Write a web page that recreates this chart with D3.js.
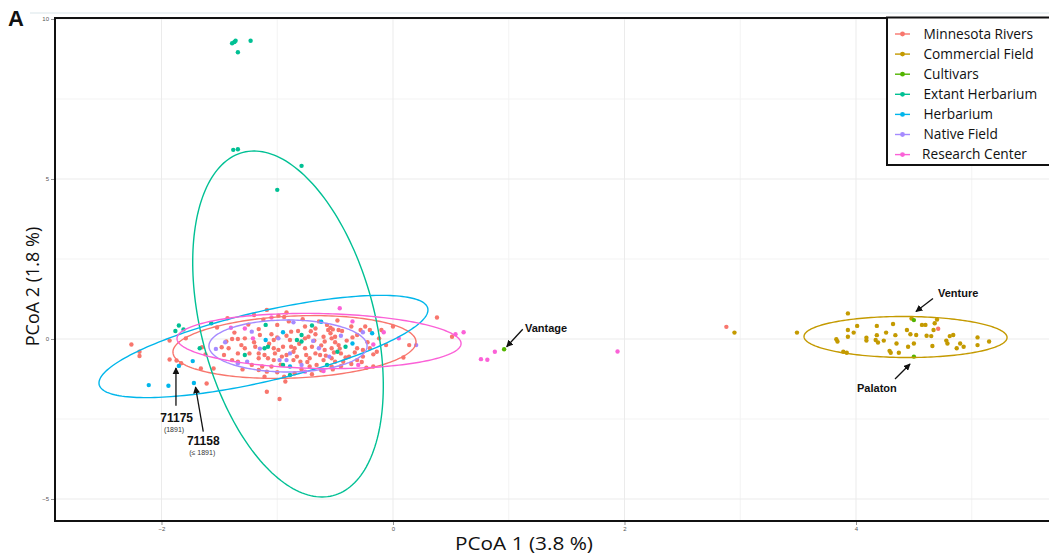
<!DOCTYPE html>
<html>
<head>
<meta charset="utf-8">
<script src="https://cdn.jsdelivr.net/npm/d3@7"></script>
<style>
  body { margin: 0; background: #ffffff; }
  svg { display: block; }
</style>
</head>
<body>
<svg id="chart" width="1049" height="558"></svg>
<script>
// ---- Groups and palette ----
const categories = ["Minnesota Rivers", "Commercial Field", "Cultivars", "Extant Herbarium", "Herbarium", "Native Field", "Research Center"];
const colors = ["#F8766D", "#C49A00", "#53B400", "#00C094", "#00B6EB", "#A58AFF", "#FB61D7"];

// ---- PCoA scores [PCoA 1, PCoA 2] per group ----
const minnesotaRivers = [
  [-2.26,-0.17],[-2.19,-0.40],[-2.19,-0.53],[-1.93,-0.05],[-1.79,0.02],[-1.93,-0.64],[-1.87,-0.67],[-1.83,-0.76],
  [-1.66,-0.92],[-1.61,-1.39],[-1.65,-0.26],[-1.52,0.36],[-1.62,-0.48],[-1.48,-0.26],[-1.44,-0.08],[-1.55,-0.92],
  [-1.09,0.91],[-0.92,0.83],[-1.43,0.65],[-0.99,0.73],[-0.94,0.69],[-0.57,0.44],[-1.00,0.44],[-0.76,0.39],
  [-0.67,0.33],[-1.16,0.31],[-1.15,0.125],[-1.05,0.15],[-0.92,0.10],[-0.88,0.23],[-0.82,0.25],[-0.73,0.07],
  [-0.67,0.15],[-0.60,0.07],[-0.54,0.18],[-1.39,0.00],[-1.34,0.00],[-1.28,0.02],[-1.03,-0.03],[-0.89,-0.03],
  [-0.76,0.02],[-0.59,-0.08],[-0.53,0.02],[-1.42,-0.29],[-1.31,-0.19],[-1.28,-0.29],[-1.19,-0.24],[-1.03,-0.29],
  [-0.99,-0.34],[-0.95,-0.24],[-0.88,-0.24],[-0.85,-0.29],[-0.76,-0.29],[-0.70,-0.24],[-0.59,-0.34],[-0.53,-0.29],
  [-1.34,-0.45],[-1.24,-0.45],[-1.16,-0.45],[-1.11,-0.50],[-1.02,-0.45],[-0.96,-0.55],[-0.92,-0.50],[-0.83,-0.55],
  [-0.75,-0.50],[-0.67,-0.45],[-0.63,-0.50],[-1.39,-0.66],[-1.34,-0.71],[-1.16,-0.60],[-1.08,-0.60],[-1.03,-0.66],
  [-0.86,-0.66],[-0.80,-0.71],[-0.72,-0.60],[-0.60,-0.66],[-0.53,-0.60],[-1.22,-0.81],[-1.13,-0.86],[-1.05,-0.86],
  [-0.72,-0.86],[-0.66,-0.81],[-0.53,-0.86],[-1.16,-0.97],[-1.09,-1.02],[-1.00,-1.04],[-0.85,-1.07],[-0.70,-1.10],
  [-1.11,-1.18],[-0.93,-1.33],[-1.09,-1.65],[-0.98,-1.875],
  [0.38,0.67],[0.51,0.07],[-0.36,0.39],[-0.24,0.39],[-0.20,0.28],[0.00,0.39],[-0.12,0.02],[-0.06,-0.19],
  [0.14,-0.19],[-0.31,0.125],[-0.50,0.07],[-0.47,-0.19],[-0.31,-0.29],[-0.26,-0.34],[-0.20,-0.29],[-0.17,-0.48],
  [-0.26,-0.55],[-0.31,-0.66],[-0.43,-0.71],[0.09,-0.58],[-0.23,-0.90],[-0.17,-0.86],[-0.50,-0.71],
  [-0.52,0.30],[-0.44,0.25],[-0.40,-0.05],[-0.45,-0.45],[-0.38,-0.55],[-0.52,-0.95],
  [-0.54,0.35],[-0.47,0.28],[-0.50,-0.10],[-0.46,-0.30],[-0.41,-0.58],[-0.35,0.05],[-0.33,-0.42],[-0.28,0.28],
  [-0.22,-0.10],[-0.14,-0.40],[-0.10,0.28],[-0.36,-0.78],[-0.27,-0.72],
  [-1.37,0.20],[-1.25,0.45],[-1.20,-0.10],[-1.12,0.60],[-1.07,-0.15],[-1.00,0.05],[-0.97,-0.80],[-0.90,0.55],
  [-0.86,-0.40],[-0.81,-0.15],[-0.78,0.62],[-0.74,-0.72],[-0.71,0.24],[-0.68,-0.05],[-0.64,0.55],[-0.62,-0.20],
  [-0.58,-0.52],[-0.56,0.28],[-0.51,-0.42],[-0.48,0.58],[-1.46,-0.50],[-1.30,-0.95],[-1.20,0.75],[-0.94,-1.18],
  [-0.79,-0.95],[-0.62,-0.98],[-0.45,-0.85],
  [2.88,0.38],[4.71,0.32]
];
const commercialField = [
  [2.95,0.20],[3.49,0.20],[3.93,0.80],[3.83,-0.01],[3.84,-0.08],[3.93,0.28],[3.93,0.07],[3.98,0.20],
  [4.01,0.41],[3.89,-0.40],[3.92,-0.43],[4.09,0.04],[4.09,-0.05],[4.18,0.41],[4.18,0.12],[4.17,-0.03],
  [4.19,-0.11],[4.26,0.20],[4.32,0.47],[4.34,0.12],[4.35,-0.14],[4.29,-0.37],[4.30,-0.43],[4.37,-0.43],
  [4.44,0.28],[4.47,0.15],[4.48,0.64],[4.45,-0.24],[4.50,-0.14],[4.52,0.125],[4.57,0.44],[4.60,0.44],
  [4.61,0.10],[4.65,0.09],[4.67,0.28],[4.68,0.49],[4.70,0.61],[4.66,-0.22],[4.81,0.09],[4.84,0.125],
  [4.78,-0.05],[4.79,-0.14],[4.90,-0.14],[4.87,-0.29],[4.93,-0.24],[5.05,0.05],[5.05,-0.19],[5.15,-0.08],
  [4.24,-0.05]
];
const cultivars = [[0.96,-0.32],[4.50,0.59],[4.50,-0.55]];
const extantHerbarium = [
  [-1.39,9.24],[-1.37,9.28],[-1.36,9.32],[-1.23,9.32],[-1.34,8.96],[-1.38,5.91],[-1.34,5.93],[-0.79,5.41],[-1.00,4.66],
  [-1.88,0.25],[-1.85,0.42],[-1.81,0.30],[-1.67,-0.29],[-1.57,0.49],
  [-1.10,0.44],[-0.70,0.42],[-0.79,0.125],[-0.83,-0.03],[-0.79,-0.08],[-1.11,-0.29],[-1.08,-0.24],[-1.28,-0.50],
  [-0.95,-0.81],[-0.57,-0.81],[-0.89,-1.125],[-0.41,-0.24],[-0.48,-0.40]
];
const herbarium = [
  [-1.85,-0.84],[-1.73,-0.69],[-2.11,-1.44],[-1.94,-1.46],[-1.72,-1.375],
  [-0.62,0.54],[-0.95,0.21],[-1.10,-0.03],[-0.89,-0.86],[-0.18,0.18],[-0.35,-0.14]
];
const nativeField = [
  [-1.53,-0.31],[-0.86,0.52],[-1.22,0.23],[-0.99,0.02],[-0.69,-0.06],[-0.64,-0.29],[-0.89,-0.45],
  [-1.26,-0.71],[-0.98,-0.66],[-0.92,-0.66],[-1.34,-0.76],[-0.79,-0.81],[-0.26,0.21],[0.20,-0.19],
  [-1.45,-0.10],[-0.55,-0.55],[-0.45,0.10],[-1.15,-0.30]
];
const researchCenter = [
  [-1.05,0.67],[-1.28,0.33],[-1.21,0.02],[-0.76,-1.02],[-0.46,0.96],[0.54,0.15],[0.61,0.21],[-0.08,0.21],
  [0.05,0.02],[-0.17,-0.17],[-0.30,-0.81],[0.76,-0.63],[0.815,-0.65],[0.88,-0.40],[1.94,-0.39],
  [-1.40,0.35],[-0.60,-1.00],[-0.35,0.55]
];
const groups = [minnesotaRivers, commercialField, cultivars, extantHerbarium, herbarium, nativeField, researchCenter];

// ---- 95% ellipses: centre and two conjugate semi-diameters (data units) ----
const ellipseGroup  = [0, 1, 3, 4, 5, 6];
const ellipseCenter = [[-0.851,-0.25],[4.428,0.0625],[-0.907,0.469],[-1.119,-0.234],[-0.907,-0.219],[-0.639,-0.0625]];
const ellipseAxisU  = [[1.050,0.156],[0.877,-0.016],[-0.294,5.406],[1.421,1.141],[0.683,0.0],[1.227,-0.078]];
const ellipseAxisV  = [[0.0,-0.969],[0.0,-0.641],[0.769,0.0],[0.0,-1.119],[0.0,-0.8125],[0.0,-0.859]];

// ---- Axes ----
const xTicks = [-2, 0, 2, 4];
const yTicks = [-5, 0, 5, 10];
const xMinor = [-1, 1, 3, 5];
const yMinor = [-2.5, 2.5, 7.5];

// ---- Annotations ----
const noteLabels = ["71175", "71158", "Vantage", "Venture", "Palaton"];
const notePos = [[-1.869,-2.584],[-1.639,-3.3125],[1.140,0.219],[4.708,1.3125],[4.009,-1.656]];
const noteAnchor = ["middle", "middle", "start", "start", "start"];
const subLabels = ["(1891)", "(\u2264 1891)"];
const subPos = [[-1.892,-2.906],[-1.648,-3.625]];
const arrowFrom = [[-1.875,-2.084],[-1.639,-2.897],[1.121,0.303],[4.665,1.266],[4.337,-1.25]];
const arrowTo   = [[-1.875,-0.906],[-1.706,-1.5],[0.982,-0.241],[4.518,0.859],[4.467,-0.781]];

const svg = d3.select("#chart");
const M = { left: 55, right: 1050, top: 18, bottom: 521 };

const x = d3.scaleLinear().domain([-2.92, 5.676]).range([M.left, M.right]);
const y = d3.scaleLinear().domain([-5.6875, 10.031]).range([M.bottom, M.top]);

// faint strip above the panel
svg.append("line").attr("x1", 30).attr("x2", 1049).attr("y1", 13).attr("y2", 13)
  .attr("stroke", "#e6eef0").attr("stroke-width", 1.5);

svg.append("defs").append("clipPath").attr("id", "panel")
  .append("rect").attr("x", M.left).attr("y", M.top).attr("width", M.right - M.left).attr("height", M.bottom - M.top);

const panel = svg.append("g").attr("clip-path", "url(#panel)");

// grid
panel.selectAll(".gxm").data(xMinor).join("line")
  .attr("x1", d => x(d)).attr("x2", d => x(d)).attr("y1", M.top).attr("y2", M.bottom)
  .attr("stroke", "#f3f3f3").attr("stroke-width", 1);
panel.selectAll(".gym").data(yMinor).join("line")
  .attr("y1", d => y(d)).attr("y2", d => y(d)).attr("x1", M.left).attr("x2", M.right)
  .attr("stroke", "#f3f3f3").attr("stroke-width", 1);
panel.selectAll(".gx").data(xTicks).join("line")
  .attr("x1", d => x(d)).attr("x2", d => x(d)).attr("y1", M.top).attr("y2", M.bottom)
  .attr("stroke", "#ebebeb").attr("stroke-width", 1);
panel.selectAll(".gy").data(yTicks).join("line")
  .attr("y1", d => y(d)).attr("y2", d => y(d)).attr("x1", M.left).attr("x2", M.right)
  .attr("stroke", "#ebebeb").attr("stroke-width", 1);

// points
groups.forEach((pts, gi) => {
  panel.append("g").selectAll("circle").data(pts).join("circle")
    .attr("cx", d => x(d[0])).attr("cy", d => y(d[1])).attr("r", 2.2)
    .attr("fill", colors[gi]);
});

// ellipses
const tSteps = d3.range(0, 201).map(i => i / 200 * 2 * Math.PI);
const ell = d3.line().x(d => x(d[0])).y(d => y(d[1])).curve(d3.curveLinearClosed);
ellipseGroup.forEach((gi, k) => {
  const c = ellipseCenter[k], u = ellipseAxisU[k], v = ellipseAxisV[k];
  const pts = tSteps.map(t => [c[0] + Math.cos(t) * u[0] + Math.sin(t) * v[0],
                               c[1] + Math.cos(t) * u[1] + Math.sin(t) * v[1]]);
  panel.append("path").attr("d", ell(pts)).attr("fill", "none")
    .attr("stroke", colors[gi]).attr("stroke-width", 1.4);
});

// annotation arrows
const defs = svg.select("defs");
defs.append("marker").attr("id", "arrowhead").attr("viewBox", "0 0 10 10")
  .attr("refX", 9).attr("refY", 5).attr("markerWidth", 7).attr("markerHeight", 7)
  .attr("markerUnits", "userSpaceOnUse").attr("orient", "auto")
  .append("path").attr("d", "M0,0 L10,5 L0,10 Z").attr("fill", "#111");

svg.append("g").selectAll("line").data(arrowFrom).join("line")
  .attr("x1", d => x(d[0])).attr("y1", d => y(d[1]))
  .attr("x2", (d, i) => x(arrowTo[i][0])).attr("y2", (d, i) => y(arrowTo[i][1]))
  .attr("stroke", "#111").attr("stroke-width", 1.3).attr("marker-end", "url(#arrowhead)");

svg.append("g").selectAll("text").data(noteLabels).join("text")
  .attr("x", (d, i) => x(notePos[i][0])).attr("y", (d, i) => y(notePos[i][1]))
  .attr("text-anchor", (d, i) => noteAnchor[i])
  .attr("font-family", "'Liberation Sans', Arial, sans-serif").attr("font-weight", "bold")
  .attr("font-size", (d, i) => i < 2 ? 12 : 11).attr("fill", "#111").text(d => d);

svg.append("g").selectAll("text").data(subLabels).join("text")
  .attr("x", (d, i) => x(subPos[i][0])).attr("y", (d, i) => y(subPos[i][1]))
  .attr("text-anchor", "middle")
  .attr("font-family", "'Liberation Sans', Arial, sans-serif")
  .attr("font-size", 7).attr("fill", "#333").text(d => d);

// panel frame
svg.append("rect").attr("x", M.left).attr("y", M.top)
  .attr("width", M.right - M.left).attr("height", M.bottom - M.top)
  .attr("fill", "none").attr("stroke", "#111").attr("stroke-width", 2);

// axes
const xAxis = svg.append("g").attr("transform", `translate(0,${M.bottom + 1})`)
  .call(d3.axisBottom(x).tickValues(xTicks).tickSize(3).tickPadding(2).tickFormat(d3.format("d")));
const yAxis = svg.append("g").attr("transform", `translate(${M.left - 1},0)`)
  .call(d3.axisLeft(y).tickValues(yTicks).tickSize(3).tickPadding(2).tickFormat(d3.format("d")));
[xAxis, yAxis].forEach(a => {
  a.select(".domain").remove();
  a.selectAll(".tick line").attr("stroke", "#777").attr("stroke-width", 0.8);
  a.selectAll(".tick text").attr("fill", "#555").attr("font-size", 6)
    .attr("font-family", "'Liberation Sans', Arial, sans-serif");
});

// axis titles
svg.append("text").attr("x", 524).attr("y", 550).attr("text-anchor", "middle")
  .attr("font-family", "'Open Sans', sans-serif").attr("font-size", 18).attr("fill", "#111")
  .attr("textLength", 138).attr("lengthAdjust", "spacingAndGlyphs")
  .text("PCoA 1 (3.8 %)");
svg.append("text").attr("transform", "translate(38.5,286.5) rotate(-90)").attr("text-anchor", "middle")
  .attr("font-family", "'Open Sans', sans-serif").attr("font-size", 18).attr("fill", "#111")
  .text("PCoA 2 (1.8 %)");

// panel tag
svg.append("text").attr("x", 8).attr("y", 26)
  .attr("font-family", "'Liberation Sans', Arial, sans-serif").attr("font-weight", "bold")
  .attr("font-size", 22).attr("fill", "#111").text("A");

// legend
const lg = svg.append("g");
lg.append("rect").attr("x", 887).attr("y", 17.5).attr("width", 170).attr("height", 147.5)
  .attr("fill", "#fff").attr("stroke", "#111").attr("stroke-width", 2);
const items = lg.selectAll(".item").data(categories).join("g")
  .attr("transform", (d, i) => `translate(0,${34 + i * 20.1})`);
items.append("line").attr("x1", 895).attr("x2", 910).attr("y1", 0).attr("y2", 0)
  .attr("stroke", (d, i) => colors[i]).attr("stroke-width", 1.4);
items.append("circle").attr("cx", 902.5).attr("cy", 0).attr("r", 2.4).attr("fill", (d, i) => colors[i]);
items.append("text").attr("x", (d, i) => i === 6 ? 922 : 923.5).attr("y", 0).attr("dy", "0.35em")
  .attr("font-family", "'Open Sans', sans-serif").attr("font-size", 13.7).attr("fill", "#111")
  .text(d => d);
</script>
</body>
</html>
